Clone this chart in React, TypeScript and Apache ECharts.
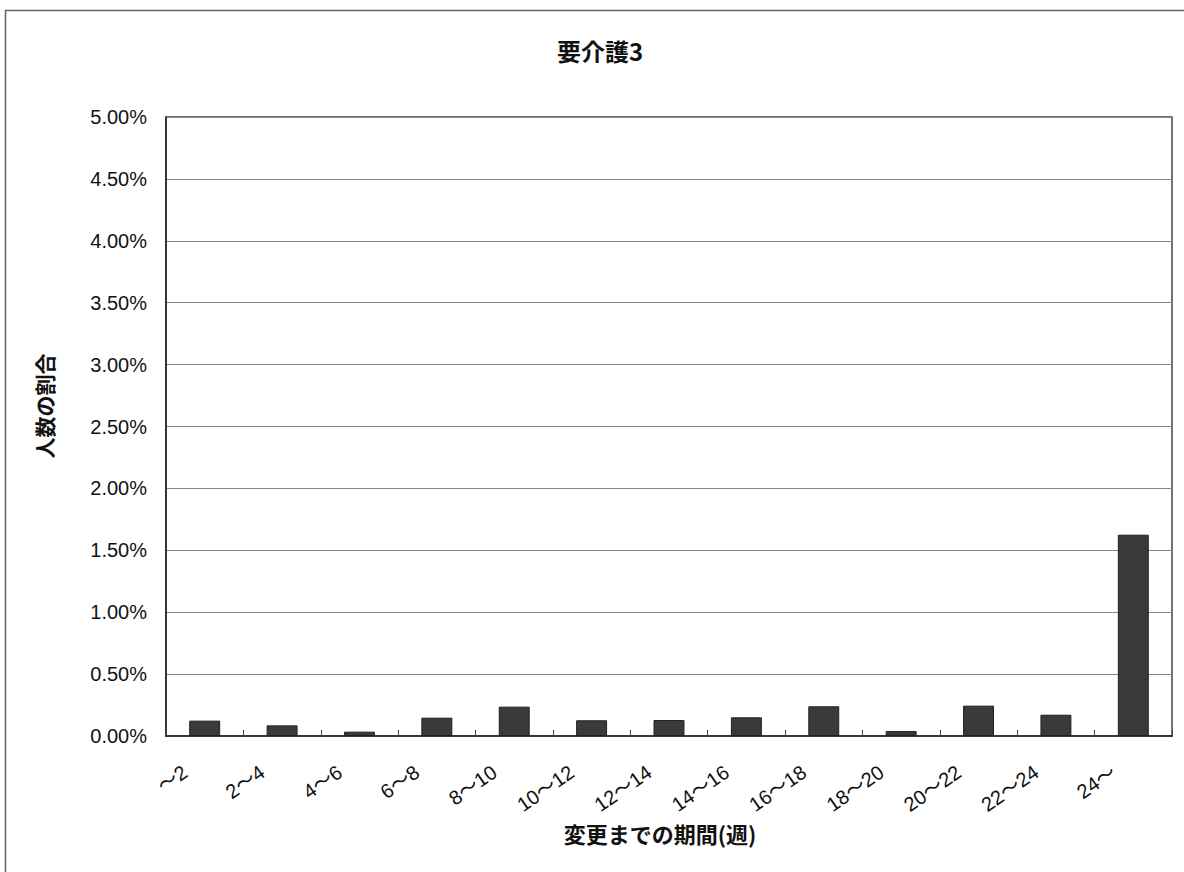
import React, { useEffect, useRef } from "react";
import * as echarts from "echarts";

const categories = ["～2", "2～4", "4～6", "6～8", "8～10", "10～12", "12～14", "14～16", "16～18", "18～20", "20～22", "22～24", "24～"];
const values = [0.124, 0.086, 0.035, 0.148, 0.237, 0.127, 0.129, 0.151, 0.240, 0.040, 0.245, 0.172, 1.626];
const yTicks = { min: 0, max: 5, interval: 0.5 };
const titleText = "要介護3";
const xName = "変更までの期間(週)";
const yName = "人数の割合";

const FONT = "'Liberation Sans', 'Noto Sans CJK JP', sans-serif";
const CJK = "'Noto Sans CJK JP', 'Liberation Sans', sans-serif";

export default function App() {
  const ref = useRef<HTMLDivElement>(null);
  useEffect(() => {
    if (!ref.current) return;
    const chart = echarts.init(ref.current, undefined, { renderer: "svg" });
    chart.setOption({
      animation: false,
      backgroundColor: "#ffffff",
      grid: { left: 166, top: 117, right: 12, bottom: 136, show: true, borderColor: "#444", borderWidth: 1.5, backgroundColor: "transparent" },
      graphic: [
        { type: "rect", left: 3, top: 8, shape: { x: 0, y: 0, width: 1200, height: 900 }, style: { fill: "none", stroke: "#666", lineWidth: 1.5 }, silent: true },
        { type: "text", x: 600, y: 50, style: { text: titleText, font: `bold 24px ${CJK}`, fill: "#111", align: "center", verticalAlign: "middle" } },
        { type: "text", x: 660, y: 833, style: { text: xName, font: `bold 22px ${CJK}`, fill: "#111", align: "center", verticalAlign: "middle" } },
        { type: "text", x: 44, y: 406, rotation: Math.PI / 2, style: { text: yName, font: `bold 21px ${CJK}`, fill: "#111", align: "center", verticalAlign: "middle" } },
      ],
      xAxis: {
        type: "category",
        data: categories,
        boundaryGap: true,
        axisLine: { show: true, lineStyle: { color: "#222", width: 1.5 } },
        axisTick: { show: true, inside: true, length: 6, alignWithLabel: false, lineStyle: { color: "#444" } },
        axisLabel: { interval: 0, rotate: 35, margin: 20, padding: [0, 24, 0, 0], fontSize: 20, fontFamily: FONT, color: "#111" },
        splitLine: { show: false },
      },
      yAxis: {
        type: "value",
        min: yTicks.min,
        max: yTicks.max,
        interval: yTicks.interval,
        axisLine: { show: true, lineStyle: { color: "#222", width: 1.5 } },
        axisTick: { show: false },
        axisLabel: { margin: 19, fontSize: 20, fontFamily: FONT, color: "#111", formatter: (v: number) => v.toFixed(2) + "%" },
        splitLine: { show: true, lineStyle: { color: "#888", width: 1 } },
      },
      series: [
        {
          type: "bar",
          data: values,
          barWidth: "40%",
          itemStyle: { color: "#3a3a3a", borderColor: "#222", borderWidth: 1 },
        },
      ],
    });
    return () => chart.dispose();
  }, []);
  return <div ref={ref} style={{ position: "fixed", left: 0, top: 0, width: 1184, height: 872 }} />;
}
